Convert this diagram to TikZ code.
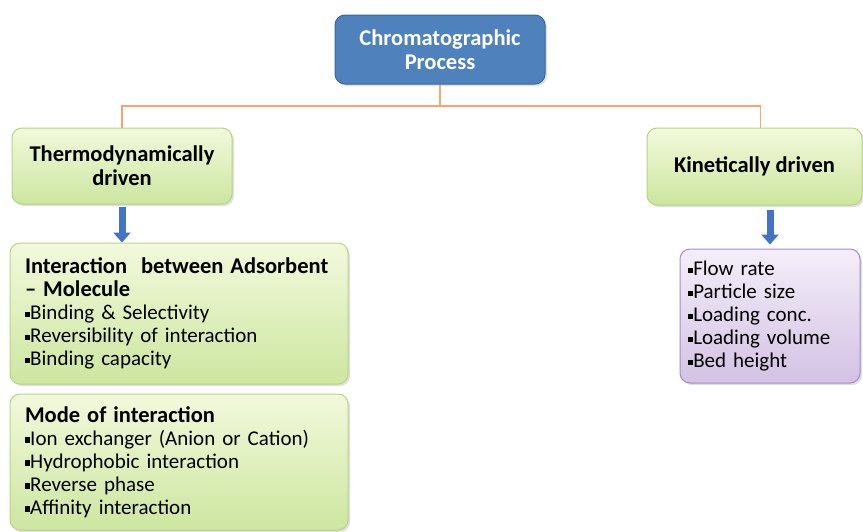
\documentclass[tikz,border=0pt]{standalone}
\usepackage{fontspec}
\setmainfont{Carlito}
\usetikzlibrary{positioning, arrows.meta, shadows}
\definecolor{procblau}{HTML}{4F81BD}
\definecolor{procrand}{HTML}{3A679C}
\definecolor{astorange}{HTML}{F5A66E}
\definecolor{gruenhell}{HTML}{F2F9DC}
\definecolor{gruendunkel}{HTML}{CDE6A0}
\definecolor{gruenrand}{HTML}{B5D585}
\definecolor{lilahell}{HTML}{F4EEF9}
\definecolor{liladunkel}{HTML}{D3C2E4}
\definecolor{lilarand}{HTML}{A68CC4}
\definecolor{pfeilblau}{HTML}{4472C4}

% kleines Quadrat als Aufzaehlungszeichen
\newcommand{\pkt}{\rule[0.25ex]{0.25em}{0.25em}}

\begin{document}
\begin{tikzpicture}[x=1pt, y=-1pt, font=\fontsize{21}{23}\selectfont,
    kasten/.style={rounded corners=10pt, line width=1pt,
        drop shadow={opacity=0.25, shadow xshift=2pt, shadow yshift=-2pt}},
    gruen/.style={kasten, draw=gruenrand, top color=gruenhell, bottom color=gruendunkel},
    lila/.style={kasten, draw=lilarand, top color=lilahell, bottom color=liladunkel},
    titel/.style={font=\fontsize{22.5}{24}\selectfont\bfseries},
    ast/.style={astorange, line width=1.6pt},
    pfeil/.style={pfeilblau, line width=7pt, -{Triangle[width=17pt, length=10pt]}}]

    \useasboundingbox (0,0) rectangle (863,531);

    % Wurzel
    \node[kasten, titel, draw=procrand, fill=procblau, text=white, align=center,
          minimum width=210, minimum height=69]
        (proc) at (440,49.5) {Chromatographic\\Process};

    % zwei Aeste
    \node[gruen, titel, align=center, minimum width=220, minimum height=76]
        (thermo) at (122,166) {Thermodynamically\\driven};
    \node[gruen, titel, align=center, minimum width=215, minimum height=77]
        (kinet) at (754.5,166.5) {Kinetically driven};

    % Verbindung
    \coordinate (gabel) at (440,106);
    \draw[ast] (proc.south) -- (gabel);
    \draw[ast] (thermo.north) |- (gabel) -| ([xshift=6pt]kinet.north);

    % linke Seite
    \node[gruen, align=left, text width=308, minimum width=338, minimum height=141]
        (inter) at (179,313.5)
        {{\fontsize{22.5}{24}\selectfont\textbf{Interaction~ between Adsorbent\\-- Molecule}}\\
         \pkt Binding \& Selectivity\\
         \pkt Reversibility of interaction\\
         \pkt Binding capacity};
    \node[gruen, align=left, text width=308, minimum width=338, minimum height=136]
        (mode) at (179,462)
        {{\fontsize{22.5}{24}\selectfont\textbf{Mode of interaction}}\\
         \pkt Ion exchanger (Anion or Cation)\\
         \pkt Hydrophobic interaction\\
         \pkt Reverse phase\\
         \pkt Affinity interaction};

    % rechte Seite
    \node[lila, align=left, text width=164, minimum width=180, minimum height=134]
        (kinlist) at (770,316)
        {\pkt Flow rate\\
         \pkt Particle size\\
         \pkt Loading conc.\\
         \pkt Loading volume\\
         \pkt Bed height};

    % blaue Pfeile
    \draw[pfeil, shorten <=2pt] (thermo.south) -- (thermo.south |- inter.north);
    \draw[pfeil, shorten <=4pt, shorten >=4pt] (kinlist.north |- kinet.south) -- (kinlist.north);

\end{tikzpicture}
\end{document}
